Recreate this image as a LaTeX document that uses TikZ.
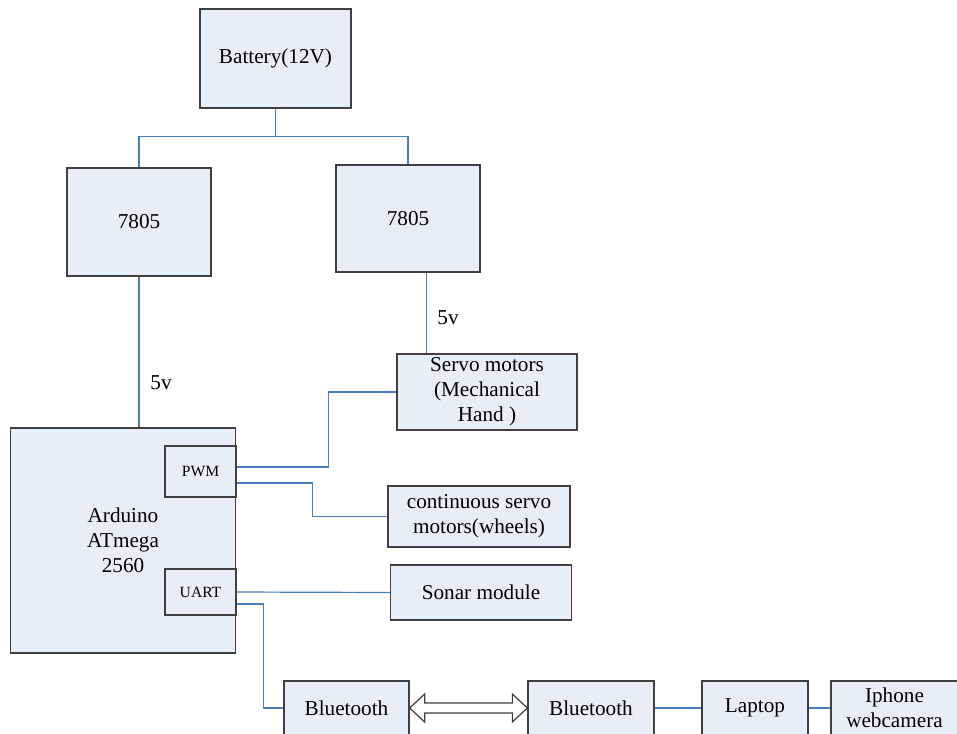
\documentclass[tikz,border=0pt]{standalone}
\usepackage{fontspec}
\setmainfont{Liberation Serif}
\usepackage{tikz}
\usetikzlibrary{calc}
\definecolor{boxfill}{HTML}{E8EEF7}
\definecolor{boxline}{HTML}{404040}
\definecolor{wireblue}{HTML}{4A7EBB}

\begin{document}
\begin{tikzpicture}[
  x=0.5pt, y=-0.5pt,
  blk/.style={draw=boxline, fill=boxfill, line width=0.65pt, inner sep=0pt,
              align=center, font=\fontsize{10.6}{12.5}\selectfont},
  port/.style={blk, font=\fontsize{7.8}{9}\selectfont},
  wire/.style={draw=wireblue, line width=0.6pt},
  volt/.style={font=\fontsize{10.6}{12.5}\selectfont, inner sep=0pt},
  dbl/.style={draw=boxline, fill=white, line width=0.6pt, line join=miter},
]
\useasboundingbox (0,0) rectangle (957,733);
\node[blk, minimum width=75.5pt, minimum height=49.5pt] (bat) at (275.5,58.5) {Battery(12V)};
\node[blk, minimum width=72pt, minimum height=54pt] (reg1) at (139,222) {7805};
\node[blk, minimum width=72pt, minimum height=53.5pt] (reg2) at (408,218.5) {7805};
\node[blk, minimum width=90pt, minimum height=38pt] (servo) at (487,392) {Servo motors\\(Mechanical\\Hand )};
\node[blk, minimum width=112.5pt, minimum height=112.5pt] (ard) at (123,540.5) {Arduino\\ATmega\\2560};
\node[port, minimum width=35.5pt, minimum height=25.5pt] (pwm) at (200.5,471.5) {PWM};
\node[port, minimum width=35.5pt, minimum height=23pt] (uart) at (200.5,592) {UART};
\node[blk, minimum width=91pt, minimum height=30.5pt] (cont) at (479,516.5) {continuous servo\\motors(wheels)};
\node[blk, minimum width=90.5pt, minimum height=27.5pt] (sonar) at (481,592.5) {Sonar module};
\node[blk, minimum width=62.5pt, minimum height=27pt] (bt1) at (346.5,708) {Bluetooth};
\node[blk, minimum width=63pt, minimum height=27pt] (bt2) at (591,708) {Bluetooth};
\node[blk, minimum width=53pt, minimum height=27pt] (lap) at (755,708) {Laptop};
\node[blk, minimum width=63.5pt, minimum height=27pt] (cam) at (894.5,708) {Iphone\\webcamera};
\node[volt] (v1) at (161,383) {5v};
\node[volt] (v2) at (448,318) {5v};

\draw[wire] (bat.south) -- ++(0,28) coordinate (split) -| (reg1.north);
\draw[wire] (split) -| (reg2.north);
\draw[wire] (reg1.south) -- (reg1.south |- ard.north);
\draw[wire] ($(reg2.south west)!0.625!(reg2.south east)$) coordinate (r2out) -- (r2out |- servo.north);
\draw[wire] ($(pwm.east)+(0,-4.5)$) -- ++(92,0) |- (servo.west);
\draw[wire] ($(pwm.east)+(0,11.5)$) -- ++(76,0) |- (cont.west);
\draw[wire] (uart.east) -- (sonar.west);
\draw[wire] ($(uart.east)+(0,12)$) -- ++(27,0) |- (bt1.west);
\draw[wire] (bt2.east) -- (lap.west);
\draw[wire] (lap.east) -- (cam.west);

\draw[dbl] (bt1.east) -- ++(15,-14) -- ++(0,9) -- ($(bt2.west)+(-15,-5)$) -- ++(0,-9)
  -- (bt2.west) -- ++(-15,14) -- ++(0,-9) -- ($(bt1.east)+(15,5)$) -- ++(0,9) -- cycle;
\end{tikzpicture}
\end{document}
